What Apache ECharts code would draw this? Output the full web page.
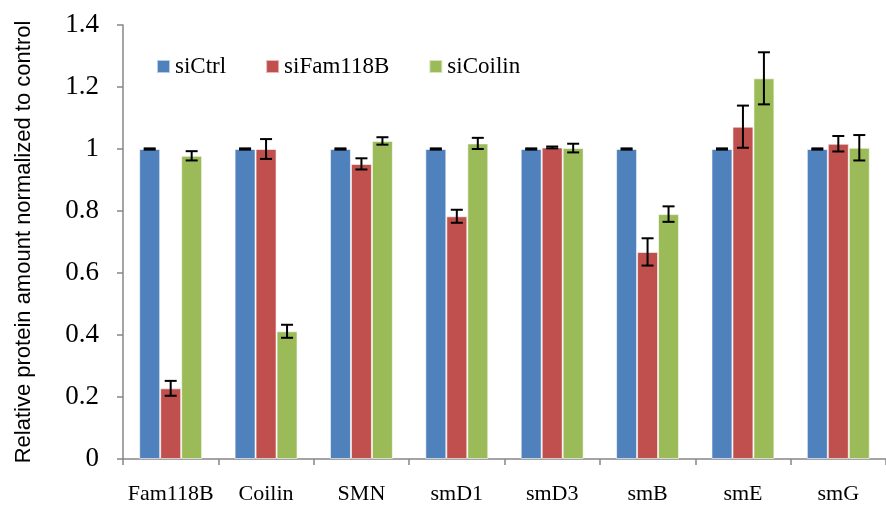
<!DOCTYPE html>
<html>
<head>
<meta charset="utf-8">
<script src="https://cdn.jsdelivr.net/npm/echarts@6/dist/echarts.min.js"></script>
<style>html,body{margin:0;padding:0;background:#fff}#c{width:886px;height:506px}</style>
</head>
<body>
<div id="c"></div>
<script>
const categories = ['Fam118B', 'Coilin', 'SMN', 'smD1', 'smD3', 'smB', 'smE', 'smG'];
const seriesNames = ['siCtrl', 'siFam118B', 'siCoilin'];
const siCtrl = [1, 1, 1, 1, 1, 1, 1, 1];
const siCtrlErr = [0.002, 0.002, 0.002, 0.002, 0.002, 0.002, 0.002, 0.002];
const siFam118B = [0.228, 1.0, 0.952, 0.783, 1.005, 0.668, 1.072, 1.017];
const siFam118BErr = [0.024, 0.032, 0.018, 0.021, 0.003, 0.044, 0.068, 0.025];
const siCoilin = [0.978, 0.412, 1.026, 1.018, 1.003, 0.790, 1.228, 1.004];
const siCoilinErr = [0.015, 0.021, 0.012, 0.018, 0.014, 0.025, 0.084, 0.041];
const yTicks = [0, 0.2, 0.4, 0.6, 0.8, 1, 1.2, 1.4];

const colors = ['#4F81BD', '#C0504D', '#9BBB59'];
const values = [siCtrl, siFam118B, siCoilin];
const errors = [siCtrlErr, siFam118BErr, siCoilinErr];

const chart = echarts.init(document.getElementById('c'));
const nS = 3;
const series = [];
values.forEach((v, i) => {
  series.push({
    name: seriesNames[i], type: 'bar', data: v, barGap: '0%', barCategoryGap: '34%',
    itemStyle: { color: colors[i], borderColor: 'rgba(255,255,255,0.6)', borderWidth: 1 },
    z: 2
  });
});
values.forEach((v, i) => {
  series.push({
    type: 'custom', name: seriesNames[i] + ' err', z: 5, silent: true,
    data: v.map((val, k) => [k, val - errors[i][k], val + errors[i][k]]),
    renderItem: function (params, api) {
      const k = api.value(0);
      const lo = api.coord([k, api.value(1)]);
      const hi = api.coord([k, api.value(2)]);
      const band = api.size([1, 0])[0];
      const barW = band * (1 - 0.34) / nS;
      const x = lo[0] - band * (1 - 0.34) / 2 + barW * (i + 0.5);
      const cap = 6;
      const st = { stroke: '#000', lineWidth: 2 };
      return { type: 'group', children: [
        { type: 'line', shape: { x1: x, y1: lo[1], x2: x, y2: hi[1] }, style: st },
        { type: 'line', shape: { x1: x - cap, y1: lo[1], x2: x + cap, y2: lo[1] }, style: st },
        { type: 'line', shape: { x1: x - cap, y1: hi[1], x2: x + cap, y2: hi[1] }, style: st }
      ]};
    }
  });
});

chart.setOption({
  animation: false,
  grid: { left: 123, right: -3, top: 25, bottom: 47, containLabel: false },
  legend: {
    data: seriesNames, left: 151, top: 50, itemWidth: 13, itemHeight: 13, itemGap: 39,
    icon: 'rect',
    textStyle: { fontFamily: 'Liberation Serif', fontSize: 23, color: '#000' }
  },
  xAxis: {
    type: 'category', data: categories,
    axisLine: { lineStyle: { color: '#868686', width: 1.5 } },
    axisTick: { show: true, interval: 0, length: 6, lineStyle: { color: '#868686', width: 1.5 } },
    axisLabel: { interval: 0, fontFamily: 'Liberation Serif', fontSize: 22, color: '#000', margin: 24 }
  },
  yAxis: {
    type: 'value', min: 0, max: 1.4, interval: 0.2,
    name: 'Relative protein amount normalized to control', nameLocation: 'middle', nameGap: 88,
    nameTextStyle: { fontFamily: 'Liberation Sans', fontSize: 22, color: '#000' },
    axisLine: { show: true, lineStyle: { color: '#868686', width: 1.5 } },
    axisTick: { show: true, length: 6, lineStyle: { color: '#868686', width: 1.5 } },
    splitLine: { show: false },
    axisLabel: { fontFamily: 'Liberation Serif', fontSize: 27, color: '#000', margin: 24,
      formatter: v => { const t = yTicks.find(x => Math.abs(x - v) < 1e-9); return String(+(t !== undefined ? t : v).toFixed(1)); } }
  },
  series: series
});
</script>
</body>
</html>
